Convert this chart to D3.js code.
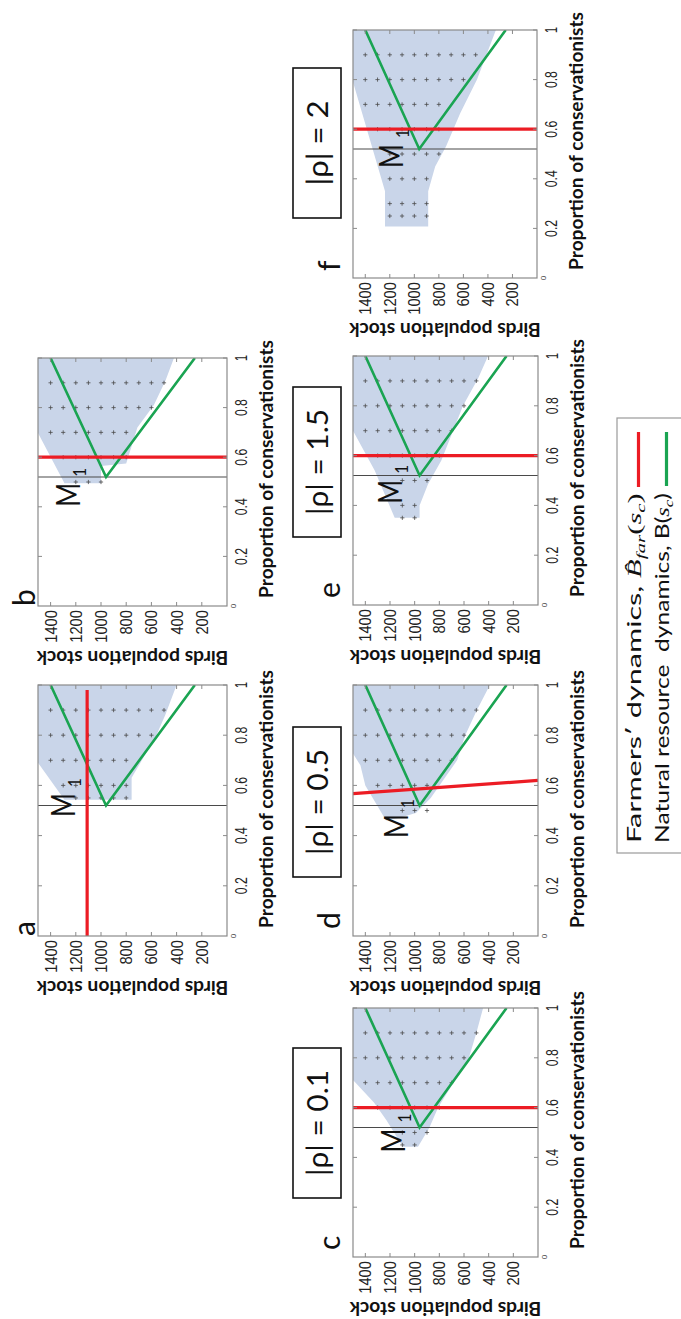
<!DOCTYPE html>
<html>
<head>
<meta charset="utf-8">
<script src="https://cdn.jsdelivr.net/npm/d3@7"></script>
<style>
  body { margin: 0; background: #fff; }
  svg { display: block; background: #fff; }
  text { white-space: pre; }
</style>
</head>
<body>
<script>
// ---------- data ----------
const panelIds = ["a", "b", "c", "d", "e", "f"];
const rhoLabels = ["", "", "|ρ| = 0.1", "|ρ| = 0.5", "|ρ| = 1.5", "|ρ| = 2"];
const popTicks = [200, 400, 600, 800, 1000, 1200, 1400];
const shareTicks = [0.2, 0.4, 0.6, 0.8, 1];
const popMax = 1500;
const m1Share = 0.52;

// natural resource dynamics B(s_c): two branches meeting at M1
const resourceCurve = [[1, 1400], [0.52, 960], [1, 255]];

// farmers' dynamics per panel, [share, birds]
const farmersA = [[0, 1110], [0.98, 1110]];
const farmersB = [[0.6, 0], [0.6, 1500]];
const farmersC = [[0.6, 0], [0.6, 1500]];
const farmersD = [[0.567, 1500], [0.62, 0]];
const farmersE = [[0.6, 0], [0.6, 1500]];
const farmersF = [[0.6, 0], [0.6, 1500]];

// viability basin outline per panel, [share, birds]
const basinA = [[0.69, 1500], [0.543, 1290], [0.543, 757], [0.63, 757], [0.8, 560], [0.88, 490], [1, 400], [1, 1500]];
const basinB = [[0.698, 1500], [0.495, 1290], [0.495, 1000], [0.565, 1000], [0.575, 800], [0.72, 711], [0.81, 580], [0.91, 487], [1, 421], [1, 1500]];
const basinC = [[0.711, 1500], [0.62, 1330], [0.55, 1230], [0.443, 1095], [0.443, 973], [0.52, 880], [0.6, 810], [0.8, 560], [0.9, 500], [1, 445], [1, 1500]];
const basinD = [[0.727, 1500], [0.68, 1440], [0.6, 1400], [0.46, 1232], [0.47, 1130], [0.49, 990], [0.55, 870], [0.7, 656], [0.8, 590], [0.9, 495], [1, 390], [1, 1500]];
const basinE = [[0.7, 1500], [0.54, 1324], [0.35, 1162], [0.35, 960], [0.4, 960], [0.485, 892], [0.58, 784], [0.8, 608], [0.91, 486], [1, 405], [1, 1500]];
const basinF = [[0.79, 1500], [0.35, 1239], [0.208, 1239], [0.208, 887], [0.35, 887], [0.45, 830], [0.53, 742], [0.664, 626], [0.8, 489], [1, 335], [1, 1500]];

// sampled viable states: [share, lowest birds, highest birds], every 100 birds
const gridA = [[0.9, 500, 1400], [0.8, 600, 1400], [0.7, 800, 1400], [0.6, 800, 1300], [0.55, 800, 1200]];
const gridB = [[0.9, 500, 1400], [0.8, 600, 1400], [0.7, 800, 1400], [0.6, 800, 1300], [0.5, 1000, 1200]];
const gridC = [[0.9, 500, 1400], [0.8, 600, 1400], [0.7, 700, 1400], [0.6, 800, 1300], [0.5, 900, 1100], [0.45, 1000, 1100]];
const gridD = [[0.9, 500, 1400], [0.8, 600, 1400], [0.7, 700, 1400], [0.6, 900, 1300], [0.5, 900, 1100]];
const gridE = [[0.9, 500, 1400], [0.8, 600, 1400], [0.7, 700, 1400], [0.6, 800, 1300], [0.5, 900, 1100], [0.4, 1000, 1100], [0.35, 1000, 1100]];
const gridF = [[0.9, 500, 1400], [0.8, 600, 1400], [0.7, 800, 1400], [0.6, 800, 1300], [0.5, 800, 1200], [0.4, 900, 1200], [0.3, 900, 1200], [0.25, 900, 1200]];

const farmersList = [farmersA, farmersB, farmersC, farmersD, farmersE, farmersF];
const basinList = [basinA, basinB, basinC, basinD, basinE, basinF];
const gridList = [gridA, gridB, gridC, gridD, gridE, gridF];

// ---------- layout (figure drawn landscape, then turned a quarter) ----------
const layout = {
  a: { u: [383, 634], v: [38, 227], top: true,  m1: [0.474, 1206], box: null },
  b: { u: [713, 961], v: [38, 227], top: true,  m1: [0.40, 1167], box: null },
  c: { u: [62, 311],  v: [353, 538], top: false, m1: [0.42, 1078], box: [121, 271] },
  d: { u: [383, 634], v: [353, 538], top: false, m1: [0.39, 1054], box: [442, 592] },
  e: { u: [714, 963], v: [353, 538], top: false, m1: [0.407, 1103], box: [782, 932] },
  f: { u: [1041, 1289], v: [353, 537], top: false, m1: [0.444, 1095], box: [1101, 1251] }
};
const boxWidths = { "|ρ| = 0.1": 106, "|ρ| = 0.5": 106, "|ρ| = 1.5": 106, "|ρ| = 2": 85 };

const colors = {
  basin: "#c9d5e9", red: "#ec1c24", green: "#1aa452", frame: "#8a8a8a",
  m1: "#4a4a4a", plus: "#4a4a4a", ink: "#111"
};
const sans = "Lato, 'Open Sans', 'Noto Sans', sans-serif";
const tickFont = "'Liberation Sans', Arial, sans-serif";
const serif = "'Liberation Serif', 'DejaVu Serif', serif";

const svg = d3.select("body").append("svg").attr("width", 681).attr("height", 1319);
const root = svg.append("g").attr("transform", "translate(0,1319) rotate(-90)");

// text helper: places text at (x,y), optional rotation, and horizontal fit
function label(parent, x, y, o, content) {
  const t = parent.append("text").attr("x", 0).attr("y", 0)
    .style("font-family", o.family || sans)
    .style("font-size", (o.size || 16) + "px")
    .attr("fill", o.color || colors.ink);
  if (o.anchor) t.attr("text-anchor", o.anchor);
  if (o.weight) t.style("font-weight", o.weight);
  if (o.italic) t.style("font-style", "italic");
  if (typeof content === "function") content(t); else t.text(content);
  let k = 1;
  if (o.width) k = o.width / t.node().getComputedTextLength();
  else if (o.squeeze) k = o.squeeze;
  t.attr("transform", `translate(${x},${y})${o.rotate ? ` rotate(${o.rotate})` : ""} scale(${k},1)`);
  return t;
}

const plusPath = "M-2.1,0H2.1M0,-2.1V2.1";

panelIds.forEach((id, i) => {
  const L = layout[id];
  const x = d3.scaleLinear().domain([0, 1]).range(L.u);
  const y = d3.scaleLinear().domain([0, popMax]).range([L.v[1], L.v[0]]);
  const line = d3.line().x(d => x(d[0])).y(d => y(d[1]));
  const g = root.append("g").attr("class", "panel-" + id);

  g.append("clipPath").attr("id", "clip-" + id).append("rect")
    .attr("x", L.u[0]).attr("y", L.v[0])
    .attr("width", L.u[1] - L.u[0]).attr("height", L.v[1] - L.v[0]);
  const plot = g.append("g").attr("clip-path", `url(#clip-${id})`);

  // viability basin
  plot.append("path").attr("d", line(basinList[i]) + "Z").attr("fill", colors.basin);

  // sampled viable states
  const pts = [];
  gridList[i].forEach(([p, lo, hi]) => d3.range(lo, hi + 1, 100).forEach(b => pts.push([p, b])));
  plot.selectAll("path.plus").data(pts).join("path").attr("class", "plus")
    .attr("transform", d => `translate(${x(d[0])},${y(d[1])})`)
    .attr("d", plusPath).attr("stroke", colors.plus).attr("stroke-width", 0.8).attr("fill", "none");

  // M1 share
  plot.append("line").attr("x1", x(m1Share)).attr("x2", x(m1Share))
    .attr("y1", y(0)).attr("y2", y(popMax))
    .attr("stroke", colors.m1).attr("stroke-width", 1.1);

  // natural resource dynamics
  plot.append("path").attr("d", line(resourceCurve)).attr("fill", "none")
    .attr("stroke", colors.green).attr("stroke-width", 2.6).attr("stroke-linejoin", "miter");

  // farmers' dynamics
  plot.append("path").attr("d", line(farmersList[i])).attr("fill", "none")
    .attr("stroke", colors.red).attr("stroke-width", 3.2);

  // frame
  g.append("rect").attr("x", L.u[0]).attr("y", L.v[0])
    .attr("width", L.u[1] - L.u[0]).attr("height", L.v[1] - L.v[0])
    .attr("fill", "none").attr("stroke", colors.frame).attr("stroke-width", 1.2);

  // inward ticks on all four sides
  const tk = 4;
  popTicks.forEach(t => {
    g.append("line").attr("x1", L.u[0]).attr("x2", L.u[0] + tk).attr("y1", y(t)).attr("y2", y(t))
      .attr("stroke", colors.frame).attr("stroke-width", 1);
    g.append("line").attr("x1", L.u[1]).attr("x2", L.u[1] - tk).attr("y1", y(t)).attr("y2", y(t))
      .attr("stroke", colors.frame).attr("stroke-width", 1);
    label(g, L.u[0] - 4, y(t) + 6, { family: tickFont, size: 17, anchor: "end", width: 8.2 * String(t).length, color: "#222" }, String(t));
  });
  shareTicks.forEach(t => {
    g.append("line").attr("x1", x(t)).attr("x2", x(t)).attr("y1", L.v[1]).attr("y2", L.v[1] - tk)
      .attr("stroke", colors.frame).attr("stroke-width", 1);
    g.append("line").attr("x1", x(t)).attr("x2", x(t)).attr("y1", L.v[0]).attr("y2", L.v[0] + tk)
      .attr("stroke", colors.frame).attr("stroke-width", 1);
    const s = String(t);
    label(g, x(t), L.v[1] + 20, { family: tickFont, size: 17, anchor: "middle", width: s.length === 1 ? 6 : 17, color: "#222" }, s);
  });
  label(g, L.u[0], L.v[1] + 9, { family: tickFont, size: 8, anchor: "middle", color: "#444" }, "0");

  // axis titles
  label(g, L.u[0] + 137, L.v[1] + 46, { size: 19, weight: 700, anchor: "middle", width: 258 }, "Proportion of conservationists");
  label(g, L.u[0] - 45, (L.v[0] + L.v[1]) / 2, { size: 18, weight: 700, anchor: "middle", width: 192, rotate: -90 }, "Birds population stock");

  // panel letter
  if (L.top) label(g, L.u[0], L.v[0] - 3, { size: 30 }, id);
  else label(g, L.u[0] + 7, L.v[0] - 13, { size: 30 }, id);

  // M1 annotation
  const mu = x(L.m1[0]), mv = y(L.m1[1]);
  label(g, mu, mv, { size: 32, width: 24 }, "M");
  label(g, mu + 30, mv + 6, { size: 17, width: 9 }, "1");

  // |rho| box
  if (L.box) {
    const txt = rhoLabels[i];
    g.append("rect").attr("x", L.box[0]).attr("y", 293)
      .attr("width", L.box[1] - L.box[0]).attr("height", 48)
      .attr("fill", "none").attr("stroke", "#111").attr("stroke-width", 1.6);
    label(g, (L.box[0] + L.box[1]) / 2, 328, { size: 28, anchor: "middle", width: boxWidths[txt] }, txt);
  }
});

// ---------- legend ----------
const lg = root.append("g").attr("class", "legend");
lg.append("rect").attr("x", 466).attr("y", 617).attr("width", 435).attr("height", 100)
  .attr("fill", "none").attr("stroke", "#9a9a9a").attr("stroke-width", 1.2);
lg.append("line").attr("x1", 832).attr("x2", 887).attr("y1", 638.5).attr("y2", 638.5)
  .attr("stroke", colors.red).attr("stroke-width", 3.2);
lg.append("line").attr("x1", 833).attr("x2", 887).attr("y1", 666.5).attr("y2", 666.5)
  .attr("stroke", colors.green).attr("stroke-width", 3.2);

label(lg, 476, 641, { size: 19, width: 350 }, t => {
  t.append("tspan").text("Farmers\u2032 dynamics, ");
  t.append("tspan").style("font-family", serif).style("font-style", "italic").text("B\u0302");
  t.append("tspan").style("font-family", serif).style("font-style", "italic").style("font-size", "13px").attr("dy", 4).text("far");
  t.append("tspan").style("font-family", serif).attr("dy", -4).text("(");
  t.append("tspan").style("font-family", serif).style("font-style", "italic").text("s");
  t.append("tspan").style("font-family", serif).style("font-style", "italic").style("font-size", "13px").attr("dy", 4).text("c");
  t.append("tspan").style("font-family", serif).attr("dy", -4).text(")");
});
label(lg, 476, 669, { size: 19, width: 350 }, t => {
  t.append("tspan").text("Natural resource  dynamics, B(");
  t.append("tspan").style("font-family", serif).style("font-style", "italic").text("s");
  t.append("tspan").style("font-family", serif).style("font-style", "italic").style("font-size", "13px").attr("dy", 4).text("c");
  t.append("tspan").attr("dy", -4).text(")");
});
</script>
</body>
</html>
